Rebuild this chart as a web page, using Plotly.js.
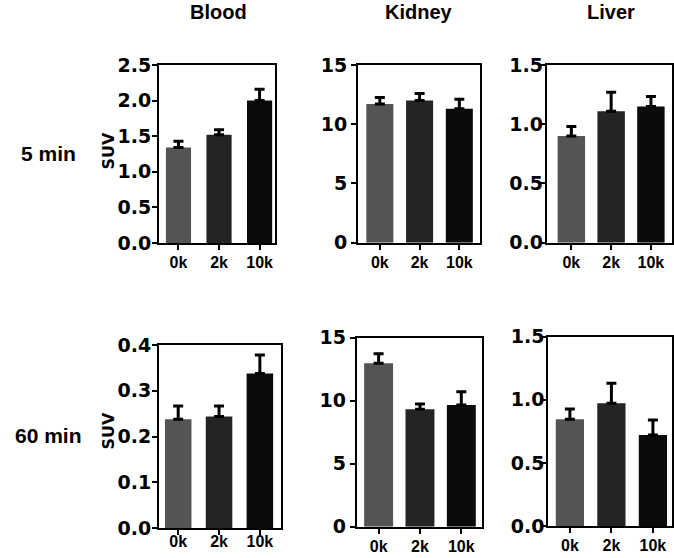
<!DOCTYPE html>
<html>
<head>
<meta charset="utf-8">
<script src="https://cdn.plot.ly/plotly-3.0.1.min.js"></script>
<style>html,body{margin:0;padding:0;background:#fff;}#chart{width:674px;height:558px;}</style>
</head>
<body>
<div id="chart"></div>
<script>
const categories = ['0k', '2k', '10k'];
const barColors = ['#545454', '#242424', '#0b0b0b'];
const organs = ['Blood', 'Kidney', 'Liver'];
const timepoints = ['5 min', '60 min'];
const yLabel = 'SUV';

const blood5 = [1.34, 1.52, 2.00];
const blood5Err = [0.09, 0.07, 0.16];
const kidney5 = [11.7, 12.0, 11.3];
const kidney5Err = [0.55, 0.6, 0.8];
const liver5 = [0.90, 1.11, 1.15];
const liver5Err = [0.08, 0.16, 0.085];
const blood60 = [0.238, 0.244, 0.338];
const blood60Err = [0.029, 0.023, 0.040];
const kidney60 = [12.97, 9.32, 9.66];
const kidney60Err = [0.76, 0.42, 1.05];
const liver60 = [0.845, 0.972, 0.721];
const liver60Err = [0.082, 0.159, 0.119];

const yMax = [2.5, 15, 1.5, 0.4, 15, 1.5];
const yDtick = [0.5, 5, 0.5, 0.1, 5, 0.5];
const yFormat = ['.1f', 'd', '.1f', '.1f', 'd', '.1f'];

const series = [blood5, kidney5, liver5, blood60, kidney60, liver60];
const errors = [blood5Err, kidney5Err, liver5Err, blood60Err, kidney60Err, liver60Err];

// layout geometry (pixels)
const W = 674, H = 558;
const boxes = [
  [159, 275, 65, 243], [358, 480, 65, 242.7], [546.7, 672, 65, 242.7],
  [159, 280.7, 345, 528.3], [356.7, 482, 337.7, 526.7], [548.3, 672, 336.7, 526]
];
const xRanges = [[-0.48, 2.38], [-0.55, 2.52], [-0.62, 2.53], [-0.47, 2.51], [-0.53, 2.5], [-0.52, 2.46]];
const barWidths = [0.62, 0.68, 0.69, 0.65, 0.70, 0.68];
const xStandoff = [-1, -1, -1, -8, -1, -1];
const yStandoff = [-3, 0, -7, -3, 0, -7];

const FONT = 'Liberation Sans, Arial, Helvetica, sans-serif';
const yTickFont = {family: 'DejaVu Sans, Liberation Sans, sans-serif', size: 19, color: '#000', weight: 700};
const xTickFont = {family: FONT, size: 16, color: '#000', weight: 700};

const data = [];
const layout = {
  width: W, height: H,
  margin: {l: 0, r: 0, t: 0, b: 0},
  paper_bgcolor: '#fff', plot_bgcolor: '#fff',
  showlegend: false,
  annotations: []
};

series.forEach((vals, i) => {
  const n = i + 1;
  const xa = 'x' + (n === 1 ? '' : n), ya = 'y' + (n === 1 ? '' : n);
  data.push({
    type: 'bar', x: categories, y: vals,
    xaxis: xa, yaxis: ya,
    width: barWidths[i],
    marker: {color: barColors, line: {width: 0}},
    error_y: {type: 'data', array: errors[i], arrayminus: errors[i].map(() => 0), symmetric: false,
              color: '#000', thickness: 3, width: 5},
    hoverinfo: 'x+y'
  });
  const b = boxes[i];
  const common = {
    showline: true, linecolor: '#000', linewidth: 2, mirror: true,
    ticks: 'outside', ticklen: 5, tickwidth: 2, tickcolor: '#000',
    showgrid: false, zeroline: false, fixedrange: true
  };
  layout['xaxis' + (n === 1 ? '' : n)] = Object.assign({}, common, {
    domain: [b[0] / W, b[1] / W], anchor: ya, type: 'category',
    range: xRanges[i], tickfont: Object.assign({}, xTickFont),
    tickmode: 'array', tickvals: categories, ticktext: categories.map(c => '<b>' + c + '</b>'),
    ticklabelstandoff: xStandoff[i]
  });
  layout['yaxis' + (n === 1 ? '' : n)] = Object.assign({}, common, {
    domain: [1 - b[3] / H, 1 - b[2] / H], anchor: xa,
    range: [0, yMax[i]], dtick: yDtick[i], tick0: 0, tickformat: yFormat[i],
    tickfont: Object.assign({}, yTickFont), ticklabelstandoff: yStandoff[i]
  });
});

const titleX = [218, 419, 611];
organs.forEach((t, j) => {
  layout.annotations.push({
    text: '<b>' + t + '</b>', xref: 'paper', yref: 'paper', x: titleX[j] / W, y: 1 - 12 / H,
    xanchor: 'center', yanchor: 'middle', showarrow: false,
    font: {family: FONT, size: 20, color: '#000', weight: 700}
  });
});
const rowY = [153, 435];
const suvY = [151, 431];
timepoints.forEach((t, j) => {
  layout.annotations.push({
    text: '<b>' + t + '</b>', xref: 'paper', yref: 'paper', x: 48 / W, y: 1 - rowY[j] / H,
    xanchor: 'center', yanchor: 'middle', showarrow: false,
    font: {family: FONT, size: 21, color: '#000', weight: 700}
  });
  layout.annotations.push({
    text: '<b>' + yLabel + '</b>', xref: 'paper', yref: 'paper', x: 107.5 / W, y: 1 - suvY[j] / H,
    xanchor: 'center', yanchor: 'middle', showarrow: false, textangle: -90,
    font: {family: 'DejaVu Sans, Liberation Sans, sans-serif', size: 16, color: '#000', weight: 700}
  });
});

Plotly.newPlot('chart', data, layout, {displayModeBar: false, staticPlot: true});
</script>
</body>
</html>
